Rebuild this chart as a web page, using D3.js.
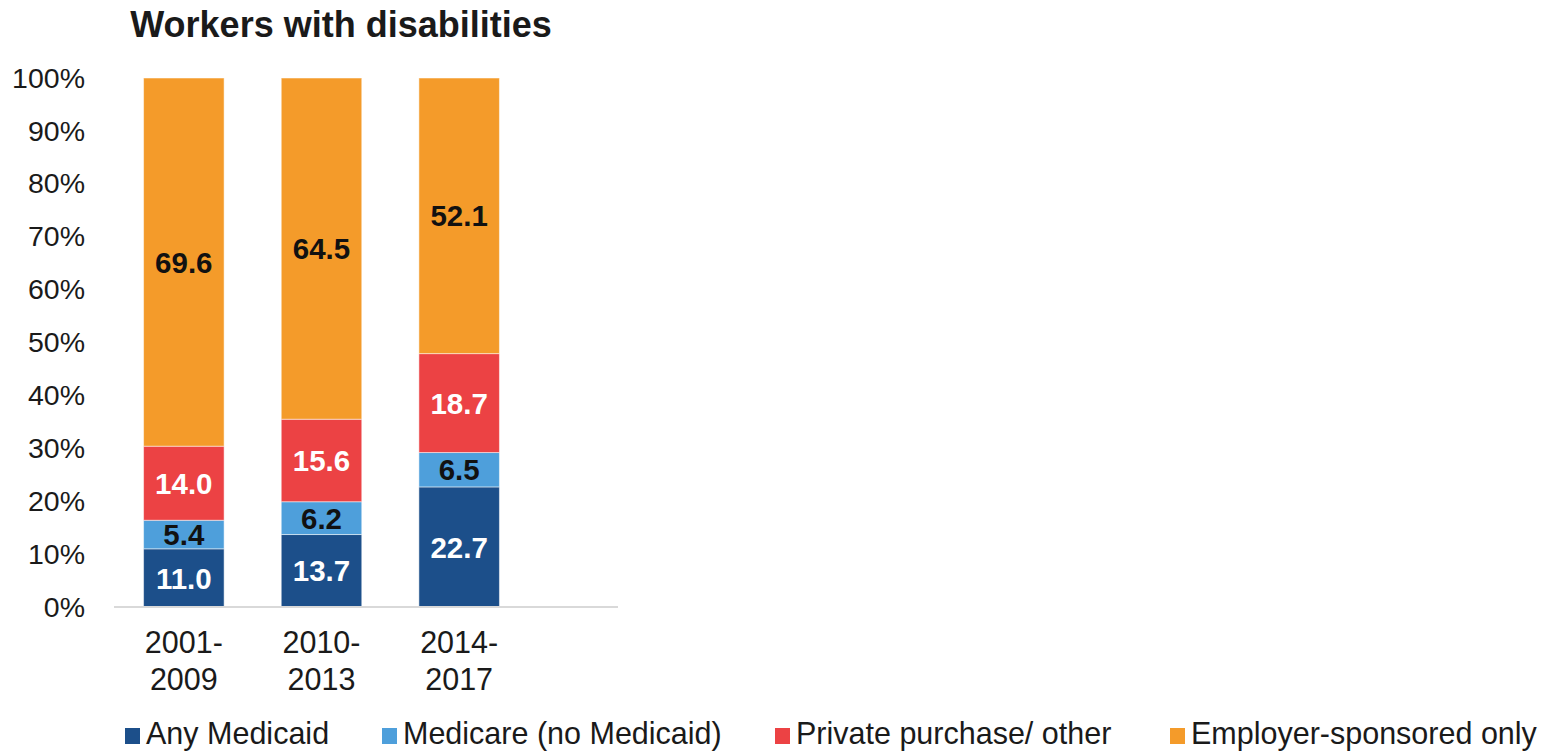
<!DOCTYPE html>
<html>
<head>
<meta charset="utf-8">
<script src="https://cdn.jsdelivr.net/npm/d3@7"></script>
<style>
  html, body { margin: 0; padding: 0; background: #fff; }
  svg { display: block; font-family: "Liberation Sans", Arial, sans-serif; }
</style>
</head>
<body>
<svg id="chart" width="1545" height="753"></svg>
<script>
// Health coverage shares (%) among workers with disabilities, by period
const periods = ["2001-2009", "2010-2013", "2014-2017"];
const seriesNames = ["Any Medicaid", "Medicare (no Medicaid)", "Private purchase/ other", "Employer-sponsored only"];
const anyMedicaid = [11.0, 13.7, 22.7];
const medicareNoMedicaid = [5.4, 6.2, 6.5];
const privatePurchase = [14.0, 15.6, 18.7];
const employerOnly = [69.6, 64.5, 52.1];
const yTicks = [0, 10, 20, 30, 40, 50, 60, 70, 80, 90, 100];

const colors = ["#1c4f8a", "#4e9fdb", "#ec4244", "#f49b2a"];
const labelColors = ["#ffffff", "#111111", "#ffffff", "#111111"];

const rows = periods.map((p, i) => ({
  period: p,
  s0: anyMedicaid[i],
  s1: medicareNoMedicaid[i],
  s2: privatePurchase[i],
  s3: employerOnly[i]
}));
const keys = ["s0", "s1", "s2", "s3"];

const svg = d3.select("#chart");

const x = d3.scaleBand().domain(periods).range([115, 528]).paddingInner(0.415).paddingOuter(0.2075);
const y = d3.scaleLinear().domain([0, 100]).range([607, 78]);

// Title
svg.append("text")
  .attr("x", 341).attr("y", 37)
  .attr("text-anchor", "middle")
  .attr("font-size", 36).attr("font-weight", "bold").attr("fill", "#1a1a1a")
  .text("Workers with disabilities");

// Y axis labels
const yAxis = d3.axisLeft(y).tickValues(yTicks).tickFormat(d => d + "%").tickSize(0).tickPadding(0);
const yg = svg.append("g").attr("transform", "translate(85,0)").call(yAxis);
yg.select(".domain").remove();
yg.selectAll("text").attr("font-size", 28.5).attr("fill", "#1a1a1a").attr("font-family", "Liberation Sans, Arial, sans-serif");

// Stacked bars
const stack = d3.stack().keys(keys)(rows);
const layers = svg.append("g").selectAll("g").data(stack).join("g")
  .attr("fill", (d, i) => colors[i]);
layers.selectAll("rect").data(d => d).join("rect")
  .attr("x", d => x(d.data.period))
  .attr("width", x.bandwidth())
  .attr("y", d => y(d[1]))
  .attr("height", d => y(d[0]) - y(d[1]))
  .attr("stroke", "#ffffff").attr("stroke-opacity", 0.5).attr("stroke-width", 1);

// Value labels
stack.forEach((layer, i) => {
  svg.append("g").selectAll("text").data(layer).join("text")
    .attr("x", d => x(d.data.period) + x.bandwidth() / 2)
    .attr("y", d => y((d[0] + d[1]) / 2))
    .attr("dy", "0.36em")
    .attr("text-anchor", "middle")
    .attr("font-size", 29.5).attr("font-weight", "bold")
    .attr("fill", labelColors[i])
    .text(d => (d[1] - d[0]).toFixed(1));
});

// X axis baseline
svg.append("line")
  .attr("x1", 114).attr("x2", 618)
  .attr("y1", y(0)).attr("y2", y(0))
  .attr("stroke", "#d9d9d9").attr("stroke-width", 2);

// X axis labels (two lines)
const xl = svg.append("g").selectAll("text").data(periods).join("text")
  .attr("x", d => x(d) + x.bandwidth() / 2)
  .attr("text-anchor", "middle")
  .attr("font-size", 30.5).attr("fill", "#1a1a1a");
xl.append("tspan").attr("x", d => x(d) + x.bandwidth() / 2).attr("y", 653).text(d => d.split("-")[0] + "-");
xl.append("tspan").attr("x", d => x(d) + x.bandwidth() / 2).attr("y", 690).text(d => d.split("-")[1]);

// Legend
const legendX = [125, 382, 775, 1170];
const lg = svg.append("g").selectAll("g").data(seriesNames).join("g")
  .attr("transform", (d, i) => `translate(${legendX[i]},744)`);
lg.append("rect").attr("x", 0).attr("y", -16).attr("width", 15).attr("height", 16)
  .attr("fill", (d, i) => colors[i]);
lg.append("text").attr("x", 21)
  .attr("font-size", 30.5).attr("fill", "#1a1a1a").text(d => d);
</script>
</body>
</html>
